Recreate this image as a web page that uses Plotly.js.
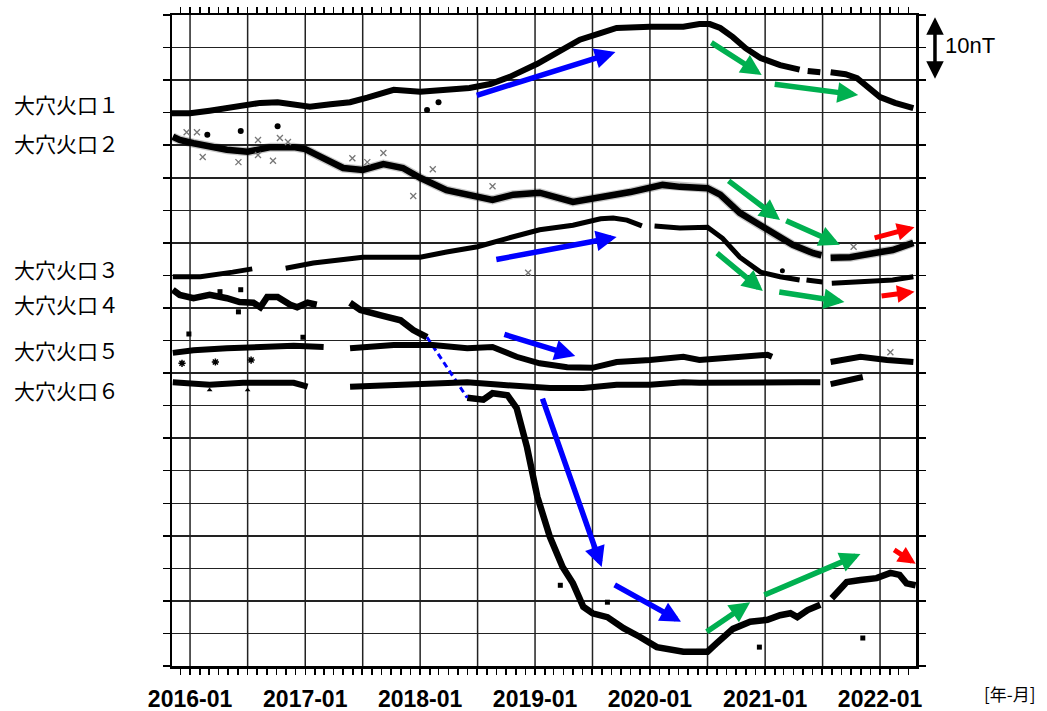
<!DOCTYPE html>
<html>
<head>
<meta charset="utf-8">
<script src="https://cdn.plot.ly/plotly-3.0.1.min.js"></script>
<style>html,body{margin:0;padding:0;background:#fff;}#chart{width:1047px;height:711px;}</style>
</head>
<body>
<div id="chart"></div>
<script>
// ---- data (x: decimal year, y: relative total force, nT) ----
const s1x = [2015.84,2016.00,2016.17,2016.32,2016.50,2016.61,2016.76,2016.91,2017.04,2017.22,2017.39,2017.54,2017.65,2017.77,2018.00,2018.17,2018.43,2018.61,2018.78,2019.02,2019.22,2019.39,2019.57,2019.71,2020.00,2020.29,2020.43,2020.52,2020.61,2020.72,2020.83,2020.96,2021.13,2021.30,2021.32,2021.37,2021.48,2021.51,2021.57,2021.70,2021.80,2021.89,2022.00,2022.13,2022.29];
const s1y = [84.9,84.9,85.3,85.7,86.2,86.5,86.6,86.2,85.9,86.3,86.6,87.3,87.9,88.5,88.2,88.5,88.8,89.4,90.5,92.5,94.6,96.2,97.2,98.0,98.2,98.2,98.6,98.6,98.0,96.6,94.9,93.4,92.3,91.6,null,91.4,91.2,null,91.2,90.9,90.3,89.1,87.4,86.5,85.7];
const s1ox = [2016.15,2016.44,2016.76,2018.06,2018.16];
const s1oy = [81.6,82.2,82.9,85.4,86.6];

const s2x = [2015.85,2015.91,2016.03,2016.17,2016.32,2016.50,2016.70,2016.90,2017.00,2017.10,2017.22,2017.33,2017.50,2017.68,2017.85,2018.00,2018.23,2018.39,2018.52,2018.63,2018.81,2019.04,2019.33,2019.54,2019.83,2020.11,2020.26,2020.50,2020.61,2020.78,2021.02,2021.24,2021.42,2021.49,2021.52,2021.57,2021.74,2021.94,2022.11,2022.29];
const s2y = [81.3,80.8,80.3,79.7,79.3,79.0,79.7,79.7,79.4,78.5,77.4,76.5,76.2,77.1,76.5,75.0,73.1,72.5,71.9,71.6,72.4,72.7,71.3,71.9,72.8,73.9,73.6,73.4,72.4,69.6,67.0,64.7,63.4,63.1,null,62.7,62.8,63.4,63.9,65.0];
const s2ox = [2015.97,2016.06,2016.11,2016.42,2016.59,2016.59,2016.72,2016.78,2016.85,2017.41,2017.54,2017.68,2017.94,2018.11,2018.63,2021.77];
const s2oy = [82.0,82.0,78.2,77.4,80.8,78.5,77.6,81.1,80.5,78.0,77.4,78.8,72.2,76.3,73.7,64.4];

const s3x = [2015.85,2016.09,2016.37,2016.54,2016.70,2016.83,2017.07,2017.50,2018.00,2018.23,2018.50,2018.76,2019.04,2019.33,2019.57,2019.68,2019.80,2019.93,2019.97,2020.04,2020.26,2020.50,2020.63,2020.78,2020.96,2021.13,2021.30,2021.33,2021.36,2021.50,2021.53,2021.58,2021.89,2022.11,2022.29];
const s3y = [59.8,59.8,60.5,61.0,null,61.1,61.9,62.8,62.8,63.6,64.4,65.7,67.0,67.7,68.7,68.8,68.5,67.6,null,67.6,67.3,67.4,65.7,62.8,60.5,59.8,59.3,null,59.3,59.0,null,58.8,59.0,59.3,59.8];
const s3ox = [2021.15,2018.94];
const s3oy = [60.7,60.4];

const s4x = [2015.85,2015.91,2016.03,2016.17,2016.32,2016.43,2016.55,2016.61,2016.67,2016.76,2016.87,2016.93,2017.02,2017.10,2017.20,2017.39,2017.48,2017.65,2017.83,2017.94,2018.06,2018.20,2018.41,2018.55,2018.63,2018.76,2018.84,2018.93,2019.02,2019.13,2019.24,2019.33,2019.42,2019.50,2019.63,2019.77,2019.91,2020.06,2020.29,2020.50,2020.58,2020.72,2020.87,2021.02,2021.13,2021.22,2021.28,2021.37,2021.48,2021.51,2021.58,2021.71,2021.83,2021.97,2022.09,2022.17,2022.23,2022.31];
const s4y = [57.8,57.0,56.5,57.0,56.5,55.9,55.8,55.1,56.7,56.7,55.5,55.1,55.8,55.5,null,55.8,54.7,53.9,53.1,51.6,50.5,null,41.2,40.9,41.9,41.6,39.6,33.6,26.0,19.8,15.2,12.7,9.1,8.1,7.5,5.8,4.5,2.9,2.2,2.2,3.5,5.7,6.8,7.1,7.8,8.1,7.5,8.6,9.4,null,10.4,12.9,13.2,13.5,14.3,14.0,12.7,12.4];
const s4ox = [2016.42,2016.44,2016.26,2019.22,2019.63,2020.95,2021.85];
const s4oy = [54.4,57.8,57.5,12.4,9.8,2.9,4.3];
const s4jumpX = [2018.06,2018.41];
const s4jumpY = [50.5,41.2];

const s5x = [2015.85,2016.03,2016.32,2016.61,2016.90,2017.16,2017.25,2017.39,2017.77,2018.11,2018.41,2018.63,2018.84,2019.04,2019.28,2019.50,2019.71,2020.00,2020.29,2020.43,2020.72,2021.02,2021.06,2021.20,2021.57,2021.83,2022.06,2022.29];
const s5y = [48.1,48.5,48.8,49.0,49.2,49.0,null,48.8,49.3,49.3,48.8,49.0,47.5,46.5,45.9,45.8,46.7,47.0,47.5,47.0,47.5,47.8,47.5,null,46.7,47.5,47.0,46.7];
const s5ox = [2015.93,2016.22,2016.53];
const s5oy = [46.5,46.7,47.0];
const s5dx = [2015.99,2016.98];
const s5dy = [51.0,50.5];
const s5xx = [2022.09];
const s5xy = [48.2];

const s6x = [2015.85,2016.03,2016.17,2016.46,2016.70,2016.90,2017.02,2017.20,2017.39,2017.77,2018.06,2018.41,2018.70,2019.13,2019.42,2019.71,2020.00,2020.29,2020.43,2020.72,2021.02,2021.30,2021.48,2021.51,2021.57,2021.74,2021.85];
const s6y = [43.6,43.5,43.2,43.5,43.6,43.5,42.9,null,42.9,43.2,43.5,43.6,43.2,42.7,42.7,43.2,43.2,43.6,43.5,43.6,43.5,43.6,43.6,null,43.3,44.1,44.4];
const s6ox = [2016.17,2016.50];
const s6oy = [42.4,42.4];

const stationNames = ["大穴火口１","大穴火口２","大穴火口３","大穴火口４","大穴火口５","大穴火口６"];
const stationLabelY = [86.3,80.3,61.0,55.6,48.5,42.4];

const xRangeYears = [2015.843, 2022.313];
const tickLabelFormat = "%Y-%m";   // gives 2016-01, 2017-01, ...
const halfYearGrid = [2016,2016.5,2017,2017.5,2018,2018.5,2019,2019.5,2020,2020.5,2021,2021.5,2022];

// trend arrows: [tailX, tailY, headX, headY]
const blueArrows = [[2018.48,87.6,2019.70,94.3],[2018.65,62.4,2019.71,65.9],[2018.72,51.0,2019.35,47.6],[2019.06,41.3,2019.58,15.2],[2019.68,12.6,2020.27,6.8]];
const greenArrows = [[2020.52,95.9,2020.97,90.8],[2021.07,89.4,2021.81,87.7],[2020.67,74.7,2021.13,68.5],[2021.17,68.5,2021.65,64.7],[2020.57,63.6,2020.98,57.6],[2021.11,57.5,2021.69,55.9],[2020.48,5.1,2020.87,9.8],[2020.98,10.8,2021.83,17.2]];
const redArrows = [[2021.94,65.7,2022.30,67.4],[2022.00,56.8,2022.30,57.5],[2022.11,18.0,2022.31,15.7]];

// decimal year -> date string for the date axis
function yd(y) {
  const yr = Math.floor(y);
  const a = Date.UTC(yr, 0, 1), b = Date.UTC(yr + 1, 0, 1);
  return new Date(a + (y - yr) * (b - a)).toISOString().slice(0, 19).replace('T', ' ');
}
const D = arr => arr.map(yd);

// ---- traces ----
function line(x, y, w, c) {
  return {x: D(x), y: y, type: 'scatter', mode: 'lines', connectgaps: false,
          line: {color: c || '#000', width: w}, hoverinfo: 'skip', showlegend: false};
}
function pts(x, y, sym, size, c, lw) {
  return {x: D(x), y: y, type: 'scatter', mode: 'markers', showlegend: false, hoverinfo: 'skip',
          marker: {symbol: sym, size: size, color: c, line: {color: c, width: lw || 0}}};
}
// half-year vertical grid lines (axis furniture)
const gridX = [], gridY = [];
halfYearGrid.forEach(g => { gridX.push(yd(g), yd(g), null); gridY.push(0, 100, null); });

const traces = [
  {x: gridX, y: gridY, type: 'scatter', mode: 'lines', showlegend: false, hoverinfo: 'skip',
   line: {color: '#222', width: 1.5}},
  line(s2x, s2y, 9, 'rgba(0,0,0,0.22)'),
  line(s2x, s2y, 6.5, '#000'),
  pts(s2ox, s2oy, 'x-thin', 6, '#777', 1.3),
  line(s1x, s1y, 6),
  pts(s1ox, s1oy, 'circle', 6, '#000'),
  line(s3x, s3y, 5),
  pts(s3ox.slice(0,1), s3oy.slice(0,1), 'circle', 5, '#000'),
  pts(s3ox.slice(1), s3oy.slice(1), 'x-thin', 6, '#777', 1.3),
  line(s4x, s4y, 6.5),
  pts(s4ox, s4oy, 'square', 5, '#000'),
  {x: D(s4jumpX), y: s4jumpY, type: 'scatter', mode: 'lines', showlegend: false, hoverinfo: 'skip',
   line: {color: '#0000ff', width: 3, dash: '6px,4px'}},
  line(s5x, s5y, 6),
  pts(s5ox, s5oy, 'asterisk', 6, '#000', 1.5),
  pts(s5dx, s5dy, 'square', 5, '#000'),
  pts(s5xx, s5xy, 'x-thin', 6, '#777', 1.3),
  line(s6x, s6y, 6),
  pts(s6ox, s6oy, 'triangle-up', 5, '#000')
];

// ---- annotations ----
const annotations = [];
function addArrows(list, color, size, width) {
  list.forEach(a => annotations.push({
    x: yd(a[2]), y: a[3], ax: yd(a[0]), ay: a[1], xref: 'x', yref: 'y', axref: 'x', ayref: 'y',
    text: '', showarrow: true, arrowhead: 2, arrowsize: size, arrowwidth: width,
    arrowcolor: color, standoff: 0, startstandoff: 0
  }));
}
addArrows(blueArrows, '#0000ff', 0.75, 5.5);
addArrows(greenArrows, '#00b050', 0.75, 5.5);
addArrows(redArrows, '#ff0000', 0.7, 5);

stationNames.forEach((n, i) => annotations.push({
  text: n, xref: 'paper', yref: 'y', x: -0.215, y: stationLabelY[i], xanchor: 'left', yanchor: 'middle',
  showarrow: false, font: {family: 'Noto Sans CJK JP', size: 21, color: '#000'}
}));

// 10 nT scale bar
annotations.push({
  xref: 'paper', yref: 'y', x: 1.0255, y: 90.2, ax: 0, ay: -63, axref: 'pixel', ayref: 'pixel',
  text: '', showarrow: true, arrowhead: 2, arrowside: 'end+start', arrowsize: 1.0, arrowwidth: 3.5,
  arrowcolor: '#000', standoff: 0, startstandoff: 0
});
annotations.push({
  xref: 'paper', yref: 'y', x: 1.0365, y: 95.3, xanchor: 'left', yanchor: 'middle', showarrow: false,
  text: '10nT', font: {family: 'Liberation Sans Narrow, Liberation Sans', size: 22, color: '#000'}
});
annotations.push({
  xref: 'paper', yref: 'paper', x: 1.126, y: -0.043, xanchor: 'center', yanchor: 'middle', showarrow: false,
  text: '[年-月]', font: {family: 'Noto Sans CJK JP', size: 17, color: '#000'}
});

const layout = {
  width: 1047, height: 711,
  margin: {l: 172, r: 131, t: 15, b: 45},
  paper_bgcolor: '#fff', plot_bgcolor: '#fff',
  showlegend: false,
  xaxis: {
    type: 'date', range: D(xRangeYears), fixedrange: true,
    tickmode: 'linear', tick0: '2016-01-01', dtick: 'M1', ticklabelstep: 12, tickformat: tickLabelFormat,
    ticks: 'outside', ticklen: 6, tickwidth: 1.5, tickcolor: '#000',
    showgrid: false, zeroline: false,
    showline: true, linecolor: '#000', linewidth: 2.5, mirror: 'ticks',
    ticklabelstandoff: 5,
    tickfont: {family: 'Liberation Sans', size: 23, color: '#000', weight: 700}
  },
  yaxis: {
    range: [0, 100], fixedrange: true, tickmode: 'linear', tick0: 0, dtick: 5,
    ticks: 'outside', ticklen: 7, tickwidth: 1.5, tickcolor: '#000', showticklabels: false,
    showgrid: true, gridcolor: '#222', gridwidth: 1.5, zeroline: false,
    showline: true, linecolor: '#000', linewidth: 2.5, mirror: 'ticks'
  },
  annotations: annotations
};

Plotly.newPlot('chart', traces, layout, {staticPlot: true, displayModeBar: false});
</script>
</body>
</html>
